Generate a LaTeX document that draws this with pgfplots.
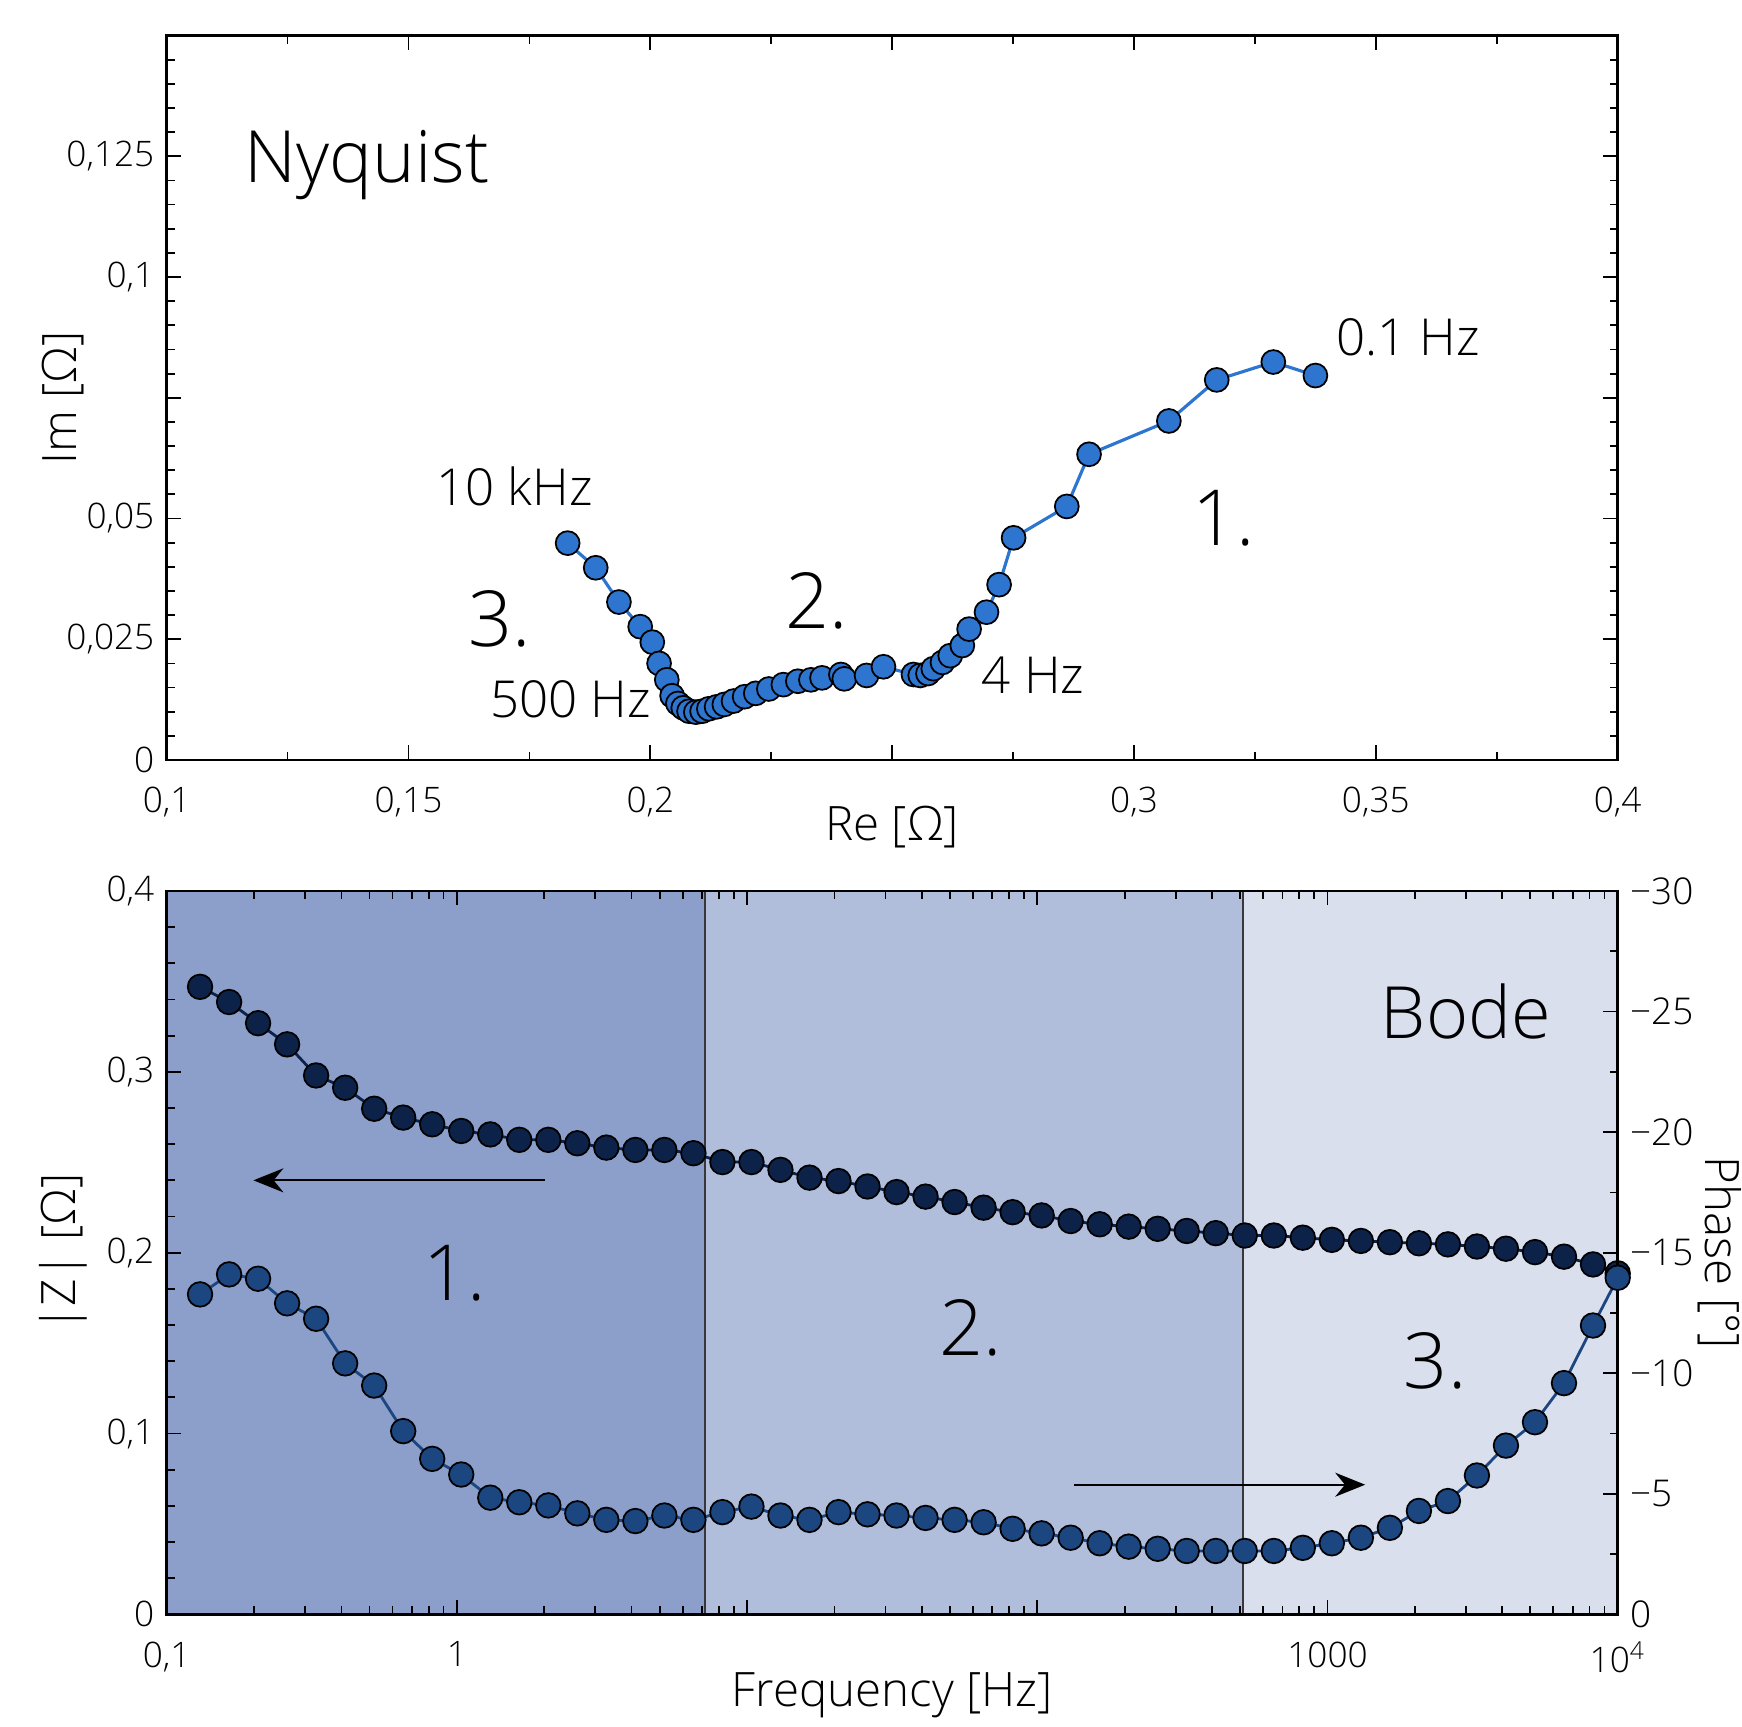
\documentclass[border=0pt]{standalone}
\usepackage{fontspec}
\IfFontExistsTF{Open Sans Light}{\setmainfont{Open Sans Light}}{%
  \IfFontExistsTF{Lato Light}{\setmainfont{Lato Light}}{\setmainfont{Open Sans}}}
\usepackage{pgfplots}
\usepackage{pgfplotstable}
\pgfplotsset{compat=1.18}
\usetikzlibrary{arrows.meta}
\definecolor{nyq}{RGB}{46,117,207}
\definecolor{zcol}{RGB}{13,34,73}
\definecolor{pcol}{RGB}{28,70,128}
\definecolor{regA}{RGB}{140,159,202}
\definecolor{regB}{RGB}{176,190,220}
\definecolor{regC}{RGB}{218,223,238}
\definecolor{vline}{RGB}{55,55,60}

\pgfplotstableread{
re im
0.1829 0.0449
0.1887 0.0398
0.1935 0.0327
0.1979 0.0276
0.2004 0.0244
0.2018 0.0200
0.2034 0.0166
0.2045 0.0133
0.2057 0.0117
0.2068 0.0108
0.2080 0.0101
0.2094 0.0099
0.2107 0.0101
0.2121 0.0106
0.2137 0.0110
0.2153 0.0115
0.2172 0.0122
0.2195 0.0131
0.2218 0.0138
0.2245 0.0147
0.2275 0.0156
0.2305 0.0163
0.2332 0.0166
0.2355 0.0170
0.2394 0.0177
0.2401 0.0168
0.2447 0.0175
0.2482 0.0193
0.2544 0.0177
0.2558 0.0175
0.2574 0.0179
0.2585 0.0189
0.2604 0.0202
0.2620 0.0216
0.2645 0.0237
0.2659 0.0271
0.2695 0.0306
0.2721 0.0363
0.2751 0.0460
0.2861 0.0525
0.2907 0.0633
0.3072 0.0702
0.3171 0.0787
0.3288 0.0824
0.3375 0.0796
}\nyquist

\pgfplotstableread{
f z p
0.1303 0.3470 -13.27
0.1641 0.3386 -14.10
0.2065 0.3269 -13.92
0.2600 0.3152 -12.90
0.3273 0.2980 -12.26
0.4121 0.2912 -10.41
0.5188 0.2796 -9.49
0.6531 0.2747 -7.60
0.8222 0.2710 -6.45
1.0351 0.2673 -5.80
1.3032 0.2654 -4.84
1.6406 0.2624 -4.65
2.0654 0.2624 -4.52
2.6002 0.2605 -4.19
3.2734 0.2581 -3.92
4.1210 0.2568 -3.87
5.1880 0.2568 -4.10
6.5313 0.2550 -3.92
8.2224 0.2501 -4.24
10.351 0.2501 -4.47
13.032 0.2458 -4.10
16.406 0.2415 -3.92
20.654 0.2396 -4.24
26.002 0.2366 -4.15
32.734 0.2335 -4.10
41.210 0.2310 -4.00
51.880 0.2280 -3.92
65.313 0.2249 -3.82
82.224 0.2224 -3.55
103.51 0.2206 -3.36
130.32 0.2175 -3.18
164.06 0.2157 -2.95
206.54 0.2144 -2.81
260.02 0.2132 -2.72
327.34 0.2120 -2.63
412.10 0.2108 -2.63
518.80 0.2095 -2.63
653.13 0.2095 -2.63
822.24 0.2083 -2.76
1035.1 0.2071 -2.95
1303.2 0.2065 -3.18
1640.6 0.2058 -3.59
2065.4 0.2052 -4.29
2600.2 0.2046 -4.70
3273.4 0.2034 -5.76
4121.0 0.2022 -7.00
5188.0 0.2003 -7.97
6531.3 0.1978 -9.59
8222.4 0.1935 -11.98
10000 0.1886 -13.96
}\bode

\begin{document}
\begin{tikzpicture}
\path[use as bounding box] (0,0) rectangle (174.2mm,172.7mm);

% ---------------- Nyquist ----------------
\begin{axis}[
  at={(16.67mm,96.7mm)}, anchor=south west,
  scale only axis, width=145.1mm, height=72.44mm,
  xmin=0.1, xmax=0.4, ymin=0, ymax=0.15,
  xtick={0.1,0.15,0.2,0.25,0.3,0.35,0.4},
  xticklabels={{0,1},{0,15},{0,2},,{0,3},{0,35},{0,4}},
  minor xtick={0.125,0.175,0.225,0.275,0.325,0.375},
  ytick={0,0.025,0.05,0.075,0.1,0.125,0.15},
  yticklabels={0,{0,025},{0,05},,{0,1},{0,125},},
  minor y tick num=4,
  tick align=inside,
  major tick length=1.45mm, minor tick length=0.8mm,
  every tick/.style={black, line width=0.5pt},
  axis line style={line width=0.7pt},
  tick label style={font=\fontsize{10}{12}\selectfont},
  xticklabel style={yshift=-1.5mm},
  xlabel={Re [Ω]}, ylabel={Im [Ω]},
  label style={font=\fontsize{13.5}{16}\selectfont},
  xlabel style={at={(axis description cs:0.5,-0.093)}, anchor=center},
  ylabel style={at={(axis description cs:-0.0715,0.5)}, anchor=center},
]
\addplot[color=nyq, line width=0.9pt, mark=*, mark size=3.4pt,
  mark options={fill=nyq, draw=black, line width=0.5pt}] table[x=re,y=im] {\nyquist};
\node[anchor=base west, inner sep=0pt, font=\fontsize{20.5}{24}\selectfont] at (axis cs:0.1160,0.1195) {Nyquist};
\node[anchor=base west, inner sep=0pt, font=\fontsize{14.5}{17}\selectfont] at (axis cs:0.3417,0.0837) {0.1 Hz};
\node[anchor=base west, inner sep=0pt, font=\fontsize{14.5}{17}\selectfont] at (axis cs:0.1556,0.0527) {10 kHz};
\node[anchor=base west, inner sep=0pt, font=\fontsize{14.5}{17}\selectfont] at (axis cs:0.1668,0.00875) {500 Hz};
\node[anchor=base west, inner sep=0pt, font=\fontsize{14.5}{17}\selectfont] at (axis cs:0.2684,0.0138) {4 Hz};
\node[anchor=base west, inner sep=0pt, font=\fontsize{22}{26}\selectfont] at (axis cs:0.1622,0.0235) {3.};
\node[anchor=base west, inner sep=0pt, font=\fontsize{22}{26}\selectfont] at (axis cs:0.2277,0.0272) {2.};
\node[anchor=base west, inner sep=0pt, font=\fontsize{22}{26}\selectfont] at (axis cs:0.3120,0.0444) {1.};
\end{axis}

% ---------------- Bode |Z| ----------------
\begin{axis}[
  at={(16.67mm,11.26mm)}, anchor=south west,
  scale only axis, width=145.1mm, height=72.34mm,
  xmode=log, xmin=0.1, xmax=10000, ymin=0, ymax=0.4,
  xtick={0.1,1,10,100,1000,10000},
  xticklabels={{0,1},1,,,1000,10\textsuperscript{4}},
  minor xtick={0.2,0.3,0.4,0.5,0.6,0.7,0.8,0.9,2,3,4,5,6,7,8,9,20,30,40,50,60,70,80,90,200,300,400,500,600,700,800,900,2000,3000,4000,5000,6000,7000,8000,9000},
  ytick={0,0.1,0.2,0.3,0.4},
  yticklabels={0,{0,1},{0,2},{0,3},{0,4}},
  minor y tick num=4,
  ytick pos=left,
  tick align=inside,
  major tick length=1.45mm, minor tick length=0.8mm,
  every tick/.style={black, line width=0.5pt},
  axis line style={line width=0.7pt},
  axis on top,
  tick label style={font=\fontsize{10}{12}\selectfont},
  xticklabel style={yshift=-1.5mm},
  xlabel={Frequency [Hz]}, ylabel={|Z| [Ω]},
  label style={font=\fontsize{13.5}{16}\selectfont},
  xlabel style={at={(axis description cs:0.5,-0.112)}, anchor=center},
  ylabel style={at={(axis description cs:-0.0715,0.5)}, anchor=center},
]
\addplot[draw=none, fill=regA] coordinates {(0.1,0) (7.15,0) (7.15,0.4) (0.1,0.4)} -- cycle;
\addplot[draw=none, fill=regB] coordinates {(7.15,0) (511.7,0) (511.7,0.4) (7.15,0.4)} -- cycle;
\addplot[draw=none, fill=regC] coordinates {(511.7,0) (10000,0) (10000,0.4) (511.7,0.4)} -- cycle;
\addplot[color=vline, line width=0.7pt] coordinates {(7.15,0) (7.15,0.4)};
\addplot[color=vline, line width=0.7pt] coordinates {(511.7,0) (511.7,0.4)};
\draw[line width=0.6pt, -{Stealth[length=3mm,width=2.4mm]}] (axis cs:2.01,0.240) -- (axis cs:0.199,0.240);
\draw[line width=0.6pt, -{Stealth[length=3mm,width=2.4mm]}] (axis cs:133.6,0.0717) -- (axis cs:1349,0.0717);
\addplot[color=zcol, line width=0.8pt, mark=*, mark size=3.5pt,
  mark options={fill=zcol, draw=black, line width=0.5pt}] table[x=f,y=z] {\bode};
\node[anchor=base west, inner sep=0pt, font=\fontsize{20.5}{24}\selectfont] at (axis cs:1520,0.3182) {Bode};
\node[anchor=base west, inner sep=0pt, font=\fontsize{22}{26}\selectfont] at (axis cs:0.760,0.1738) {1.};
\node[anchor=base west, inner sep=0pt, font=\fontsize{22}{26}\selectfont] at (axis cs:45.8,0.1431) {2.};
\node[anchor=base west, inner sep=0pt, font=\fontsize{22}{26}\selectfont] at (axis cs:1825,0.1247) {3.};
\end{axis}

% ---------------- Bode phase ----------------
\begin{axis}[
  at={(16.67mm,11.26mm)}, anchor=south west,
  scale only axis, width=145.1mm, height=72.34mm,
  xmode=log, xmin=0.1, xmax=10000, ymin=-30, ymax=0, y dir=reverse,
  axis x line=none, axis y line*=right,
  ytick={-30,-25,-20,-15,-10,-5,0},
  yticklabels={−30,−25,−20,−15,−10,−5,0},
  minor ytick={-27.5,-22.5,-17.5,-12.5,-7.5,-2.5},
  tick align=inside,
  major tick length=1.45mm, minor tick length=0.8mm,
  every tick/.style={black, line width=0.5pt},
  axis line style={line width=0.7pt},
  tick label style={font=\fontsize{10.5}{12}\selectfont},
  ylabel={Phase [°]},
  label style={font=\fontsize{13.5}{16}\selectfont},
  ylabel style={at={(axis description cs:1.0705,0.5)}, anchor=center, rotate=180},
]
\addplot[color=pcol, line width=0.8pt, mark=*, mark size=3.5pt,
  mark options={fill=pcol, draw=black, line width=0.5pt}] table[x=f,y=p] {\bode};
\end{axis}
\end{tikzpicture}
\end{document}
